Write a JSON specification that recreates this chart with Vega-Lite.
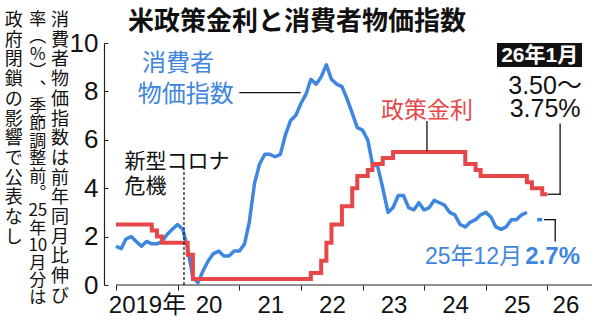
{
  "$schema": "https://vega.github.io/schema/vega-lite/v6.json",
  "width": 488,
  "height": 242,
  "autosize": {"type": "none"},
  "padding": {"left": 104, "top": 43, "right": 8, "bottom": 36},
  "background": "white",
  "config": {"view": {"stroke": null}, "axis": {"grid": false}},
  "layer": [
    {
      "data": {"values": [
        {"date":"2019-01-01","v":1.6,"seg":1},{"date":"2019-02-01","v":1.5,"seg":1},{"date":"2019-03-01","v":1.9,"seg":1},{"date":"2019-04-01","v":2.0,"seg":1},{"date":"2019-05-01","v":1.8,"seg":1},{"date":"2019-06-01","v":1.6,"seg":1},{"date":"2019-07-01","v":1.8,"seg":1},{"date":"2019-08-01","v":1.7,"seg":1},{"date":"2019-09-01","v":1.7,"seg":1},{"date":"2019-10-01","v":1.8,"seg":1},{"date":"2019-11-01","v":2.1,"seg":1},{"date":"2019-12-01","v":2.3,"seg":1},
        {"date":"2020-01-01","v":2.5,"seg":1},{"date":"2020-02-01","v":2.3,"seg":1},{"date":"2020-03-01","v":1.5,"seg":1},{"date":"2020-04-01","v":0.3,"seg":1},{"date":"2020-05-01","v":0.1,"seg":1},{"date":"2020-06-01","v":0.6,"seg":1},{"date":"2020-07-01","v":1.0,"seg":1},{"date":"2020-08-01","v":1.3,"seg":1},{"date":"2020-09-01","v":1.4,"seg":1},{"date":"2020-10-01","v":1.2,"seg":1},{"date":"2020-11-01","v":1.2,"seg":1},{"date":"2020-12-01","v":1.4,"seg":1},
        {"date":"2021-01-01","v":1.4,"seg":1},{"date":"2021-02-01","v":1.7,"seg":1},{"date":"2021-03-01","v":2.6,"seg":1},{"date":"2021-04-01","v":4.2,"seg":1},{"date":"2021-05-01","v":5.0,"seg":1},{"date":"2021-06-01","v":5.4,"seg":1},{"date":"2021-07-01","v":5.4,"seg":1},{"date":"2021-08-01","v":5.3,"seg":1},{"date":"2021-09-01","v":5.4,"seg":1},{"date":"2021-10-01","v":6.2,"seg":1},{"date":"2021-11-01","v":6.8,"seg":1},{"date":"2021-12-01","v":7.0,"seg":1},
        {"date":"2022-01-01","v":7.5,"seg":1},{"date":"2022-02-01","v":7.9,"seg":1},{"date":"2022-03-01","v":8.5,"seg":1},{"date":"2022-04-01","v":8.3,"seg":1},{"date":"2022-05-01","v":8.6,"seg":1},{"date":"2022-06-01","v":9.1,"seg":1},{"date":"2022-07-01","v":8.5,"seg":1},{"date":"2022-08-01","v":8.3,"seg":1},{"date":"2022-09-01","v":8.2,"seg":1},{"date":"2022-10-01","v":7.7,"seg":1},{"date":"2022-11-01","v":7.1,"seg":1},{"date":"2022-12-01","v":6.5,"seg":1},
        {"date":"2023-01-01","v":6.4,"seg":1},{"date":"2023-02-01","v":6.0,"seg":1},{"date":"2023-03-01","v":5.0,"seg":1},{"date":"2023-04-01","v":4.9,"seg":1},{"date":"2023-05-01","v":4.0,"seg":1},{"date":"2023-06-01","v":3.0,"seg":1},{"date":"2023-07-01","v":3.2,"seg":1},{"date":"2023-08-01","v":3.7,"seg":1},{"date":"2023-09-01","v":3.7,"seg":1},{"date":"2023-10-01","v":3.2,"seg":1},{"date":"2023-11-01","v":3.1,"seg":1},{"date":"2023-12-01","v":3.4,"seg":1},
        {"date":"2024-01-01","v":3.1,"seg":1},{"date":"2024-02-01","v":3.2,"seg":1},{"date":"2024-03-01","v":3.5,"seg":1},{"date":"2024-04-01","v":3.4,"seg":1},{"date":"2024-05-01","v":3.3,"seg":1},{"date":"2024-06-01","v":3.0,"seg":1},{"date":"2024-07-01","v":2.9,"seg":1},{"date":"2024-08-01","v":2.5,"seg":1},{"date":"2024-09-01","v":2.4,"seg":1},{"date":"2024-10-01","v":2.6,"seg":1},{"date":"2024-11-01","v":2.7,"seg":1},{"date":"2024-12-01","v":2.9,"seg":1},
        {"date":"2025-01-01","v":3.0,"seg":1},{"date":"2025-02-01","v":2.8,"seg":1},{"date":"2025-03-01","v":2.4,"seg":1},{"date":"2025-04-01","v":2.3,"seg":1},{"date":"2025-05-01","v":2.4,"seg":1},{"date":"2025-06-01","v":2.7,"seg":1},{"date":"2025-07-01","v":2.7,"seg":1},{"date":"2025-08-01","v":2.9,"seg":1},{"date":"2025-09-01","v":3.0,"seg":1},
        {"date":"2025-11-01","v":2.7,"seg":2},{"date":"2025-12-01","v":2.7,"seg":2}
      ]},
      "mark": {"type": "line", "color": "#3f86e0", "strokeWidth": 3.5, "strokeJoin": "round"},
      "encoding": {
        "x": {"field": "date", "type": "temporal", "title": null,
          "scale": {"type": "utc", "nice": false, "domain": [{"year": 2018, "month": 10, "date": 22, "utc": true}, {"year": 2026, "month": 9, "date": 22, "utc": true}]},
          "axis": {
            "values": [{"year": 2019, "month": 1, "date": 1, "utc": true}, {"year": 2020, "month": 1, "date": 1, "utc": true}, {"year": 2021, "month": 1, "date": 1, "utc": true}, {"year": 2022, "month": 1, "date": 1, "utc": true}, {"year": 2023, "month": 1, "date": 1, "utc": true}, {"year": 2024, "month": 1, "date": 1, "utc": true}, {"year": 2025, "month": 1, "date": 1, "utc": true}, {"year": 2026, "month": 1, "date": 1, "utc": true}],
            "labelExpr": "utcyear(datum.value) == 2019 ? '2019年' : utcFormat(datum.value, '%y')",
            "domain": false, "tickSize": 5, "tickColor": "#222222", "tickWidth": 1,
            "labelOffset": {"condition": {"test": "utcyear(datum.value) == 2026", "value": 18}, "value": 31},
            "labelFont": "Liberation Sans, Noto Sans CJK JP", "labelFontSize": 24, "labelBaseline": "alphabetic", "labelPadding": 22,
            "labelColor": "#111111", "labelAngle": 0, "labelOverlap": false, "labelFlush": false, "labelBound": false
          }
        },
        "y": {"field": "v", "type": "quantitative", "title": null,
          "scale": {"domain": [0, 10], "nice": false},
          "axis": {
            "values": [0,1,2,3,4,5,6,7,8,9,10],
            "labelExpr": "datum.value == 9 ? '%' : (datum.value % 2 == 0 ? datum.label : '')",
            "tickSize": -4, "labelPadding": 10, "domainColor": "#222222", "tickColor": "#222222", "domainWidth": 1.2,
            "labelFont": "Liberation Sans, Noto Sans CJK JP",
            "labelFontSize": {"condition": {"test": "datum.value == 9", "value": 19}, "value": 26},
            "labelColor": "#111111"
          }
        },
        "detail": {"field": "seg"}
      }
    },
    {
      "data": {"values": [
        {"date":"2019-01-01","v":2.5},{"date":"2019-08-01","v":2.25},{"date":"2019-09-01","v":2.0},{"date":"2019-10-01","v":1.75},
        {"date":"2020-03-01","v":1.25},{"date":"2020-04-01","v":0.25},
        {"date":"2022-03-01","v":0.5},{"date":"2022-05-01","v":1.0},{"date":"2022-06-01","v":1.75},{"date":"2022-07-01","v":2.5},{"date":"2022-09-01","v":3.25},{"date":"2022-11-01","v":4.0},{"date":"2022-12-01","v":4.5},
        {"date":"2023-02-01","v":4.75},{"date":"2023-03-01","v":5.0},{"date":"2023-05-01","v":5.25},{"date":"2023-07-01","v":5.5},
        {"date":"2024-09-01","v":5.0},{"date":"2024-11-01","v":4.75},{"date":"2024-12-01","v":4.5},
        {"date":"2025-09-01","v":4.25},{"date":"2025-10-01","v":4.0},{"date":"2025-12-01","v":3.75},{"date":"2026-01-01","v":3.75}
      ]},
      "mark": {"type": "line", "color": "#e8474a", "strokeWidth": 4, "interpolate": "step-after"},
      "encoding": {
        "x": {"field": "date", "type": "temporal", "title": null},
        "y": {"field": "v", "type": "quantitative", "title": null}
      }
    },
    {
      "data": {"values": [{"date": "2019-01-01", "date2": "2026-09-22"}]},
      "mark": {"type": "rule", "color": "#222222", "strokeWidth": 1.2},
      "encoding": {
        "x": {"field": "date", "type": "temporal", "title": null},
        "x2": {"field": "date2"},
        "y": {"datum": 0}
      }
    },
    {
      "data": {"values": [{"date": "2020-02-08", "v": 0, "v2": 4.8}]},
      "mark": {"type": "rule", "color": "#111111", "strokeWidth": 1.2, "strokeDash": [3, 2]},
      "encoding": {
        "x": {"field": "date", "type": "temporal", "title": null},
        "y": {"field": "v", "type": "quantitative", "title": null},
        "y2": {"field": "v2"}
      }
    },
    {
      "data": {"values": [
        {"date": "2021-01-05", "date2": "2021-12-27", "v": 7.95, "v2": 7.95},
        {"date": "2024-01-18", "date2": "2024-01-18", "v": 5.55, "v2": 6.75},
        {"date": "2026-01-08", "date2": "2026-03-17", "v": 3.75, "v2": 3.75},
        {"date": "2026-03-17", "date2": "2026-03-17", "v": 3.75, "v2": 6.65},
        {"date": "2025-12-15", "date2": "2026-02-16", "v": 2.7, "v2": 2.7},
        {"date": "2026-02-16", "date2": "2026-02-16", "v": 2.7, "v2": 1.82}
      ]},
      "mark": {"type": "rule", "color": "#111111", "strokeWidth": 1.3, "strokeCap": "square"},
      "encoding": {
        "x": {"field": "date", "type": "temporal", "title": null},
        "x2": {"field": "date2"},
        "y": {"field": "v", "type": "quantitative", "title": null},
        "y2": {"field": "v2"}
      }
    },
    {
      "data": {"values": [{"date": "2025-03-08", "date2": "2026-07-25", "v": 9.01, "v2": 10.0}]},
      "mark": {"type": "rect", "color": "#111111"},
      "encoding": {
        "x": {"field": "date", "type": "temporal", "title": null},
        "x2": {"field": "date2"},
        "y": {"field": "v", "type": "quantitative", "title": null},
        "y2": {"field": "v2"}
      }
    },
    {
      "data": {"values": [{"date": "2019-03-13", "v": 10.54, "t": "米政策金利と消費者物価指数"}]},
      "mark": {"type": "text", "color": "#111111", "fontSize": 26, "fontWeight": "bold", "font": "Noto Sans CJK JP", "align": "left", "baseline": "alphabetic"},
      "encoding": {
        "x": {"field": "date", "type": "temporal", "title": null},
        "y": {"field": "v", "type": "quantitative", "title": null},
        "text": {"field": "t"}
      }
    },
    {
      "data": {"values": [{"date": "2025-11-16", "v": 9.2, "t": "26年1月"}]},
      "mark": {"type": "text", "color": "white", "fontSize": 21, "fontWeight": "bold", "font": "Liberation Sans, Noto Sans CJK JP", "align": "center", "baseline": "alphabetic"},
      "encoding": {
        "x": {"field": "date", "type": "temporal", "title": null},
        "y": {"field": "v", "type": "quantitative", "title": null},
        "text": {"field": "t"}
      }
    },
    {
      "data": {"values": [{"date": "2025-12-18", "v": 7.9, "t": "3.50～"}, {"date": "2025-12-18", "v": 6.93, "t": "3.75%"}]},
      "mark": {"type": "text", "color": "#111111", "fontSize": 25, "font": "Liberation Sans, Noto Sans CJK JP", "align": "center", "baseline": "alphabetic"},
      "encoding": {
        "x": {"field": "date", "type": "temporal", "title": null},
        "y": {"field": "v", "type": "quantitative", "title": null},
        "text": {"field": "t"}
      }
    },
    {
      "data": {"values": [{"date": "2020-01-03", "v": 9.13, "t": "消費者"}, {"date": "2020-02-19", "v": 7.85, "t": "物価指数"}]},
      "mark": {"type": "text", "color": "#3f86e0", "fontSize": 24, "font": "Noto Sans CJK JP", "align": "center", "baseline": "middle"},
      "encoding": {
        "x": {"field": "date", "type": "temporal", "title": null},
        "y": {"field": "v", "type": "quantitative", "title": null},
        "text": {"field": "t"}
      }
    },
    {
      "data": {"values": [{"date": "2024-01-18", "v": 7.19, "t": "政策金利"}]},
      "mark": {"type": "text", "color": "#e8474a", "fontSize": 23, "font": "Noto Sans CJK JP", "align": "center", "baseline": "middle"},
      "encoding": {
        "x": {"field": "date", "type": "temporal", "title": null},
        "y": {"field": "v", "type": "quantitative", "title": null},
        "text": {"field": "t"}
      }
    },
    {
      "data": {"values": [{"date": "2019-02-20", "v": 5.09, "t": "新型コロナ"}, {"date": "2019-02-20", "v": 4.05, "t": "危機"}]},
      "mark": {"type": "text", "color": "#111111", "fontSize": 21, "font": "Noto Sans CJK JP", "align": "left", "baseline": "middle"},
      "encoding": {
        "x": {"field": "date", "type": "temporal", "title": null},
        "y": {"field": "v", "type": "quantitative", "title": null},
        "text": {"field": "t"}
      }
    },
    {
      "data": {"values": [{"date": "2025-08-04", "v": 0.85, "t": "25年12月"}]},
      "mark": {"type": "text", "color": "#3f86e0", "fontSize": 23, "font": "Liberation Sans, Noto Sans CJK JP", "align": "right", "baseline": "alphabetic"},
      "encoding": {
        "x": {"field": "date", "type": "temporal", "title": null},
        "y": {"field": "v", "type": "quantitative", "title": null},
        "text": {"field": "t"}
      }
    },
    {
      "data": {"values": [{"date": "2026-07-13", "v": 0.85, "t": "2.7%"}]},
      "mark": {"type": "text", "color": "#3f86e0", "fontSize": 24, "fontWeight": "bold", "font": "Liberation Sans, Noto Sans CJK JP", "align": "right", "baseline": "alphabetic"},
      "encoding": {
        "x": {"field": "date", "type": "temporal", "title": null},
        "y": {"field": "v", "type": "quantitative", "title": null},
        "text": {"field": "t"}
      }
    },
    {
      "data": {"values": [
        {"date": "2018-02-03", "v": 11.28, "t": "消|費|者|物|価|指|数|は|前|年|同|月|比|伸|び"},
        {"date": "2017-05-05", "v": 11.28, "t": "政|府|閉|鎖|の|影|響|で|公|表|な|し"}
      ]},
      "mark": {"type": "text", "color": "#111111", "fontSize": 18, "font": "Noto Sans CJK JP", "align": "center", "baseline": "top", "lineBreak": "|", "lineHeight": 19.7},
      "encoding": {
        "x": {"field": "date", "type": "temporal", "title": null},
        "y": {"field": "v", "type": "quantitative", "title": null},
        "text": {"field": "t"}
      }
    },
    {
      "data": {"values": [
        {"date": "2017-09-25", "v": 11.28, "t": "率|︵|％|︶|︑|季|節|調|整|前|︒|25|年|10|月|分|は"}
      ]},
      "mark": {"type": "text", "color": "#111111", "fontSize": 17, "font": "Noto Sans CJK JP", "align": "center", "baseline": "top", "lineBreak": "|", "lineHeight": 17.4},
      "encoding": {
        "x": {"field": "date", "type": "temporal", "title": null},
        "y": {"field": "v", "type": "quantitative", "title": null},
        "text": {"field": "t"}
      }
    }
  ]
}
